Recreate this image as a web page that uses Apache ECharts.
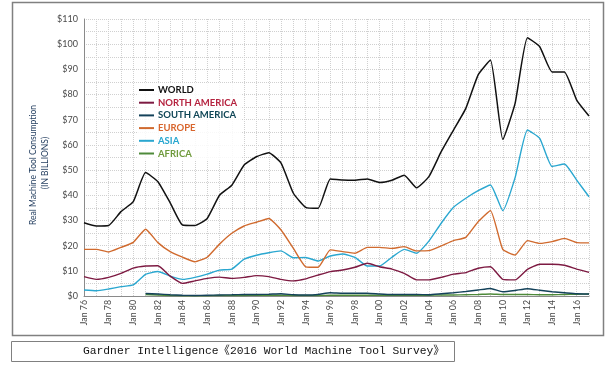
<!DOCTYPE html>
<html>
<head>
<meta charset="utf-8">
<script src="https://cdn.jsdelivr.net/npm/echarts@6/dist/echarts.min.js"></script>
<style>
html,body{margin:0;padding:0;background:#fff;}
#c{width:614px;height:368px;}
</style>
</head>
<body>
<div id="c"></div>
<script>
var years = ['Jan 76','Jan 77','Jan 78','Jan 79','Jan 80','Jan 81','Jan 82','Jan 83','Jan 84','Jan 85','Jan 86','Jan 87','Jan 88','Jan 89','Jan 90','Jan 91','Jan 92','Jan 93','Jan 94','Jan 95','Jan 96','Jan 97','Jan 98','Jan 99','Jan 00','Jan 01','Jan 02','Jan 03','Jan 04','Jan 05','Jan 06','Jan 07','Jan 08','Jan 09','Jan 10','Jan 11','Jan 12','Jan 13','Jan 14','Jan 15','Jan 16','Jan 17'];

var world = [29.1, 27.8, 28.0, 33.5, 37.5, 49.0, 45.4, 37.0, 28.2, 28.0, 30.8, 40.0, 44.0, 52.0, 55.3, 56.9, 52.8, 40.8, 35.2, 34.8, 46.5, 46.1, 46.0, 46.5, 45.1, 46.0, 48.0, 43.0, 47.4, 57.3, 65.9, 74.5, 87.8, 93.7, 62.2, 76.5, 102.6, 99.0, 89.0, 89.0, 77.8, 71.5];

var northAmerica = [7.7, 6.6, 7.4, 9.0, 11.1, 11.9, 12.0, 7.9, 5.0, 6.0, 7.0, 7.5, 7.0, 7.4, 8.1, 7.7, 6.6, 6.0, 6.8, 8.3, 9.7, 10.3, 11.4, 13.0, 11.6, 10.7, 9.0, 6.4, 6.4, 7.4, 8.7, 9.3, 11.0, 11.6, 6.6, 6.4, 10.6, 12.6, 12.6, 12.2, 10.7, 9.4];

var southAmerica = [null, null, null, null, null, 1.0, 0.8, 0.5, 0.3, 0.2, 0.3, 0.4, 0.5, 0.6, 0.6, 0.7, 0.9, 0.5, 0.4, 0.6, 1.3, 1.1, 1.1, 1.1, 0.8, 0.6, 0.6, 0.6, 0.5, 0.9, 1.3, 1.8, 2.4, 3.0, 1.7, 2.2, 2.9, 2.3, 1.7, 1.3, 0.9, 0.8];

var europe = [18.5, 18.5, 17.5, 19.3, 21.3, 26.5, 21.2, 17.6, 15.4, 13.6, 15.4, 20.6, 24.9, 27.8, 29.3, 30.8, 26.2, 18.9, 11.6, 11.4, 18.3, 17.6, 17.0, 19.3, 19.3, 18.9, 19.6, 17.9, 18.0, 19.9, 22.0, 23.3, 29.5, 33.9, 18.5, 16.3, 22.0, 20.9, 21.6, 22.9, 21.2, 21.1];

var asia = [2.4, 2.1, 2.8, 3.7, 4.4, 8.6, 9.7, 7.9, 6.6, 7.4, 8.7, 10.3, 10.7, 14.6, 16.2, 17.2, 17.9, 15.2, 15.3, 13.9, 15.9, 16.7, 15.3, 11.9, 11.9, 15.4, 18.5, 17.0, 21.8, 28.9, 35.2, 38.8, 41.8, 44.1, 33.9, 47.0, 65.9, 62.6, 51.4, 52.4, 46.0, 39.4];

var africa = [null, null, null, null, null, 0.6, 0.4, 0.2, 0.1, 0.1, 0.1, 0.2, 0.2, 0.2, 0.3, 0.3, 0.3, 0.2, 0.2, 0.2, 0.3, 0.3, 0.3, 0.3, 0.3, 0.3, 0.3, 0.3, 0.3, 0.4, 0.4, 0.5, 0.6, 0.8, 0.6, 0.6, 0.6, 0.5, 0.5, 0.6, 0.7, 0.8];

var seriesNames = ['WORLD', 'NORTH AMERICA', 'SOUTH AMERICA', 'EUROPE', 'ASIA', 'AFRICA'];
var lineColors = ['#111111', '#7d1a42', '#14425a', '#d06a2e', '#2aa7d0', '#4e8a3a'];
var legendTextColors = ['#111111', '#b5233f', '#0f4656', '#d8652c', '#26a6cf', '#6f9a3c'];
var yAxisTitle1 = 'Real Machine Tool Consumption';
var yAxisTitle2 = '(IN BILLIONS)';
var caption = 'Gardner Intelligence《2016 World Machine Tool Survey》';

var dataSets = [world, northAmerica, southAmerica, europe, asia, africa];

var chart = echarts.init(document.getElementById('c'), null, {renderer: 'canvas'});

var series = seriesNames.map(function (n, i) {
  return {
    name: n,
    type: 'line',
    data: dataSets[i],
    showSymbol: false,
    symbol: 'none',
    smooth: 0.15,
    connectNulls: false,
    lineStyle: {color: lineColors[i], width: i === 0 ? 1.5 : 1.4},
    itemStyle: {color: lineColors[i]},
    z: 10 - i
  };
});

var option = {
  backgroundColor: '#ffffff',
  animation: false,
  grid: {left: 84, right: 25, top: 19, bottom: 72, containLabel: false},
  legend: {
    orient: 'vertical',
    left: 137,
    top: 83,
    itemWidth: 15,
    itemHeight: 2,
    itemGap: 2.7,
    icon: 'rect',
    data: seriesNames.map(function (n, i) {
      return {name: n, textStyle: {color: legendTextColors[i]}};
    }),
    textStyle: {fontFamily: 'Lato', fontWeight: 'bold', fontSize: 9.5, lineHeight: 9.5, padding: [0, 0, 0, -1]},
    backgroundColor: 'rgba(255,255,255,0.85)',
    padding: [2, 4, 2, 2]
  },
  xAxis: {
    type: 'category',
    data: years,
    boundaryGap: false,
    axisLine: {show: true, lineStyle: {color: '#8a8a8a', width: 1}},
    axisTick: {show: false},
    axisLabel: {
      interval: 1,
      rotate: 90,
      color: '#4a4a4a',
      fontFamily: 'Lato',
      fontSize: 8.8,
      margin: 4
    },
    splitLine: {show: true, interval: 0, lineStyle: {color: '#d0d0d0', type: 'dotted', width: 1}}
  },
  yAxis: {
    type: 'value',
    min: 0,
    max: 110,
    interval: 5,
    axisLine: {show: true, lineStyle: {color: '#8a8a8a', width: 1}},
    axisTick: {show: false},
    axisLabel: {
      color: '#4a4a4a',
      fontFamily: 'Lato',
      fontSize: 9,
      margin: 6,
      formatter: function (v) { return v % 10 === 0 ? '$' + v : ''; }
    },
    splitLine: {show: true, lineStyle: {color: '#d0d0d0', type: 'dotted', width: 1}}
  },
  graphic: [
    {type: 'rect', shape: {x: 12.5, y: 2.5, width: 591, height: 333}, style: {fill: 'none', stroke: '#808080', lineWidth: 1.5}, z: -1, silent: true},
    {type: 'rect', shape: {x: 11.5, y: 341.5, width: 443, height: 20}, style: {fill: 'none', stroke: '#808080', lineWidth: 1}, silent: true},
    {type: 'text', x: 83, y: 351.5, style: {text: caption, font: '11.3px "Liberation Mono", "Noto Sans CJK SC", monospace', fill: '#111', textAlign: 'left', textVerticalAlign: 'middle'}, silent: true},
    {type: 'text', x: 33, y: 165, rotation: Math.PI / 2, style: {text: yAxisTitle1, font: '8.5px Lato', fill: '#1f3a5c', textAlign: 'center', textVerticalAlign: 'middle'}, silent: true},
    {type: 'text', x: 45, y: 163, rotation: Math.PI / 2, style: {text: yAxisTitle2, font: '8.5px Lato', fill: '#1f3a5c', textAlign: 'center', textVerticalAlign: 'middle'}, silent: true}
  ],
  series: series
};

chart.setOption(option);
</script>
</body>
</html>
